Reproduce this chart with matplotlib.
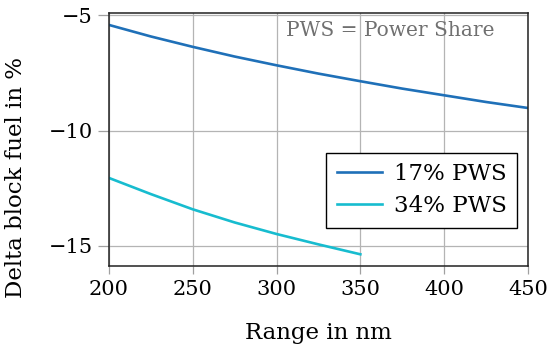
import numpy as np
import matplotlib
matplotlib.use("Agg")
import matplotlib.pyplot as plt

plt.rcParams['font.family'] = ['DejaVu Serif']

# 数据
range_17 = [200, 225, 250, 275, 300, 325, 350, 375, 400, 425, 450]
fuel_17 = [-5.42, -5.92, -6.37, -6.79, -7.17, -7.53, -7.86, -8.18, -8.47, -8.76, -9.02]
range_34 = [200, 225, 250, 275, 300, 325, 350]
fuel_34 = [-12.05, -12.75, -13.41, -13.98, -14.48, -14.93, -15.36]
labels = ['17% PWS', '34% PWS']
colors = ['#1f70b8', '#17bccf']

fig = plt.figure(figsize=(5.5, 3.46), dpi=100)
ax = fig.add_axes([0.198, 0.231, 0.762, 0.731])
ax.plot(range_17, fuel_17, color=colors[0], linewidth=1.9, label=labels[0])
ax.plot(range_34, fuel_34, color=colors[1], linewidth=1.9, label=labels[1])

ax.set_xlim(200, 450)
ax.set_ylim(-15.87, -4.91)
ax.set_xticks([200, 250, 300, 350, 400, 450])
ax.set_yticks([-15, -10, -5])
ax.set_yticklabels(['\u221215', '\u221210', '\u22125'])
ax.grid(True, color='#b4b4b4', linewidth=0.9)
ax.set_axisbelow(True)
ax.tick_params(labelsize=15, width=0.9, color='#a0a0a0', direction='out')
ax.tick_params(axis='y', length=8, pad=3.5)
ax.tick_params(axis='x', length=6, pad=4)
for s in ax.spines.values():
  s.set_linewidth(1.1)
  s.set_color('#222222')

ax.set_xlabel('Range in nm', fontsize=16.5, va='center')
ax.xaxis.set_label_coords(0.5, -0.265)
ax.set_ylabel('Delta block fuel in %', fontsize=16.5, va='center')
ax.yaxis.set_label_coords(-0.222, 0.352)
ax.text(0.921, 0.93, 'PWS = Power Share', transform=ax.transAxes, ha='right', va='center',
        fontsize=14.5, color='#707070')

leg = ax.legend(loc='center right', bbox_to_anchor=(0.974, 0.30), borderaxespad=0,
                fontsize=16.5, fancybox=False, framealpha=1, edgecolor='black',
                handlelength=2.0, borderpad=0.45, labelspacing=0.45, handletextpad=0.5)
leg.get_frame().set_linewidth(1.0)

fig.savefig('out.png', dpi=100)
